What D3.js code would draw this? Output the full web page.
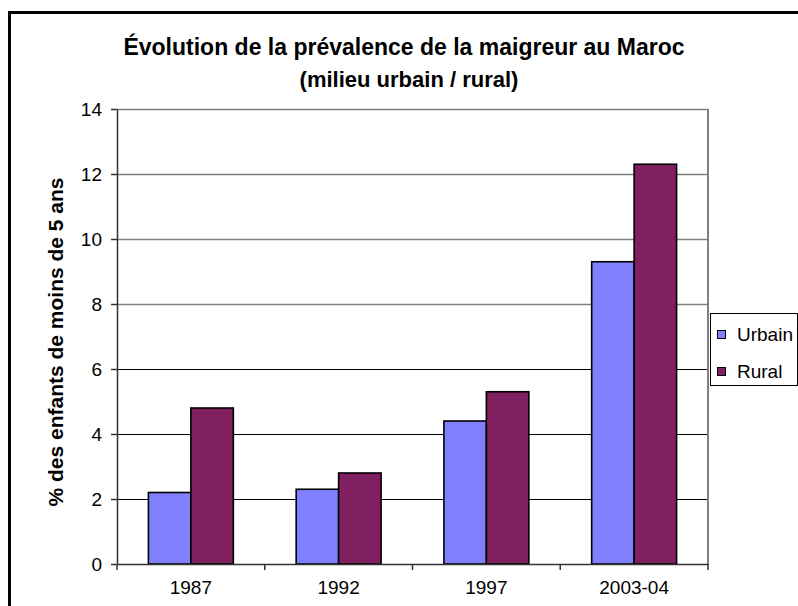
<!DOCTYPE html>
<html>
<head>
<meta charset="utf-8">
<script src="https://cdn.jsdelivr.net/npm/d3@7"></script>
<style>
    body { margin: 0; background: #fff; }
    svg { display: block; font-family: "Liberation Sans", Arial, sans-serif; }
</style>
</head>
<body>
<div id="chart"></div>
<script>
var categories = ['1987', '1992', '1997', '2003-04'];
var series = ['Urbain', 'Rural'];
var urbain = [2.2, 2.3, 4.4, 9.3];
var rural = [4.8, 2.8, 5.3, 12.3];
var yTicks = [0, 2, 4, 6, 8, 10, 12, 14];

var colors = ['#8080FF', '#802060'];
var width = 798;
var height = 606;
var margin = ({ top: 109, right: 90, bottom: 42, left: 117 });

var data = categories.map((c, i) => ({ name: c, values: [urbain[i], rural[i]] }));

var x = d3.scaleBand()
    .domain(categories)
    .range([margin.left, width - margin.right]);
var xs = d3.scaleBand()
    .domain(series)
    .range([0, x.bandwidth()])
    .paddingOuter(0.74);
var y = d3.scaleLinear()
    .domain([0, 14])
    .range([height - margin.bottom, margin.top]);

var svg = d3.select('#chart')
    .append('svg')
    .attr('width', width)
    .attr('height', height);

// outer frame, runs off the right and bottom
svg.append('rect')
    .attr('x', 9.5).attr('y', 12.5)
    .attr('width', 900).attr('height', 700)
    .attr('fill', 'none')
    .attr('stroke', '#000')
    .attr('stroke-width', 3);

svg.append('text')
    .attr('x', 404).attr('y', 55)
    .attr('text-anchor', 'middle')
    .attr('font-size', 23).attr('font-weight', 'bold')
    .text('Évolution de la prévalence de la maigreur au Maroc');
svg.append('text')
    .attr('x', 409).attr('y', 87)
    .attr('text-anchor', 'middle')
    .attr('font-size', 22).attr('font-weight', 'bold')
    .text('(milieu urbain / rural)');

// gridlines
svg.append('g')
    .selectAll('line').data(yTicks.filter(d => d > 0)).enter().append('line')
    .attr('x1', margin.left).attr('x2', width - margin.right)
    .attr('y1', d => Math.round(y(d)) + 0.5).attr('y2', d => Math.round(y(d)) + 0.5)
    .attr('stroke', d => d >= 8 ? '#808080' : '#000')
    .attr('stroke-width', d => d >= 8 ? 1.3 : 1);

// right border of the plot
svg.append('line')
    .attr('x1', width - margin.right).attr('x2', width - margin.right)
    .attr('y1', y(14)).attr('y2', y(0))
    .attr('stroke', '#808080').attr('stroke-width', 2);

svg.append('g')
    .selectAll('g').data(data).enter().append('g')
    .attr('transform', d => `translate(${x(d.name)},0)`)
    .selectAll('rect').data(d => d.values).enter().append('rect')
    .attr('x', (d, i) => xs(series[i]))
    .attr('y', d => y(d))
    .attr('width', xs.bandwidth())
    .attr('height', d => y(0) - y(d))
    .attr('fill', (d, i) => colors[i])
    .attr('stroke', '#000')
    .attr('stroke-width', 1.6);

var yAxis = g => g
    .attr('transform', `translate(${margin.left},0)`)
    .call(d3.axisLeft(y).tickValues(yTicks).tickSize(6).tickPadding(9).tickSizeOuter(0))
    .call(g => g.selectAll('text').attr('font-size', 19).attr('fill', '#000'))
    .call(g => g.selectAll('line, .domain').attr('stroke', '#333').attr('stroke-width', 1.5));

var xAxis = g => g
    .attr('transform', `translate(0,${y(0)})`)
    .call(d3.axisBottom(x).tickSize(0).tickPadding(17).tickSizeOuter(0))
    .call(g => g.selectAll('text').attr('font-size', 19).attr('fill', '#000'))
    .call(g => g.select('.domain').attr('stroke', '#333').attr('stroke-width', 1.5));

svg.append('g').call(yAxis);
svg.append('g').call(xAxis);

// tick marks between categories
var bounds = categories.map(c => x(c)).concat([x(categories[categories.length - 1]) + x.bandwidth()]);
svg.append('g')
    .selectAll('line').data(bounds).enter().append('line')
    .attr('x1', d => d).attr('x2', d => d)
    .attr('y1', y(0)).attr('y2', y(0) + 6)
    .attr('stroke', '#333').attr('stroke-width', 1.5);

svg.append('text')
    .attr('transform', 'translate(63,342) rotate(-90)')
    .attr('text-anchor', 'middle')
    .attr('font-size', 21).attr('font-weight', 'bold')
    .text('% des enfants de moins de 5 ans');

var legend = svg.append('g').attr('transform', 'translate(710,313)');
legend.append('rect')
    .attr('x', 0.5).attr('y', 0.5)
    .attr('width', 87).attr('height', 72)
    .attr('fill', '#fff').attr('stroke', '#000').attr('stroke-width', 1);
var item = legend.selectAll('g.item').data(series).enter().append('g')
    .attr('class', 'item')
    .attr('transform', (d, i) => `translate(7,${17 + i * 37})`);
item.append('rect')
    .attr('x', 0.5).attr('y', 0.5)
    .attr('width', 8).attr('height', 8)
    .attr('fill', (d, i) => colors[i])
    .attr('stroke', '#000').attr('stroke-width', 1);
item.append('text')
    .attr('x', 20).attr('y', 11)
    .attr('font-size', 19)
    .text(d => d);
</script>
</body>
</html>
